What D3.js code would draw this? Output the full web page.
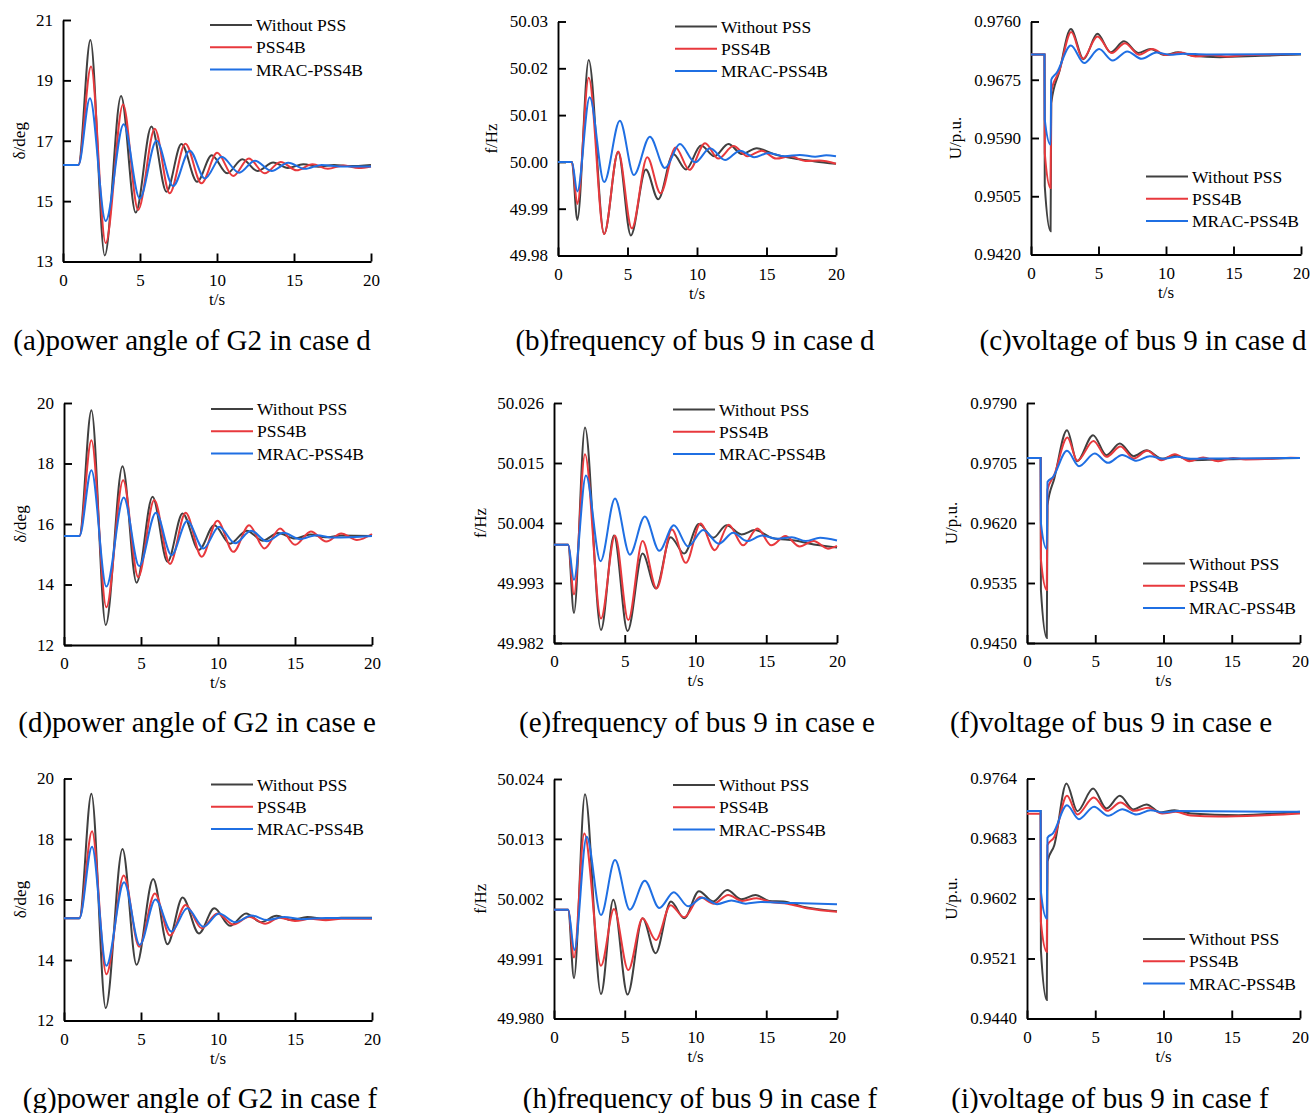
<!DOCTYPE html>
<html>
<head>
<meta charset="utf-8">
<script src="https://cdn.jsdelivr.net/npm/d3@7"></script>
<style>
  body { margin: 0; background: #fff; }
  svg text { font-family: "Liberation Serif", "Times New Roman", serif; fill: #000; }
</style>
</head>
<body>
<svg id="chart" width="1311" height="1113"></svg>
<script>
// time axis and legend
var timeTicks = [0, 5, 10, 15, 20];
var seriesNames = ["Without PSS", "PSS4B", "MRAC-PSS4B"];
var seriesColors = ["#404040", "#e8393d", "#1f6fe3"];

// (a) power angle of G2, case d
var aTicks = [13, 15, 17, 19, 21];
var aWithout = [[0,16.2],[1.0,16.2],[1.78,20.34],[2.71,13.2],[3.77,18.48],[4.72,14.62],[5.74,17.47],[6.72,15.31],[7.69,16.89],[8.71,15.64],[9.66,16.52],[10.66,15.92],[11.64,16.39],[12.63,16.0],[13.65,16.28],[14.6,16.1],[15.6,16.22],[16.6,16.14],[17.6,16.2],[18.6,16.16],[20,16.2]];
var aPss4b = [[0,16.2],[1.0,16.2],[1.82,19.46],[2.77,13.61],[3.9,18.2],[4.88,14.71],[5.96,17.4],[6.93,15.26],[7.95,16.9],[8.99,15.59],[10.01,16.6],[11.05,15.83],[12.07,16.41],[13.1,15.92],[14.13,16.3],[15.17,16.02],[16.2,16.22],[17.2,16.07],[18.2,16.18],[19.2,16.1],[20,16.15]];
var aMrac = [[0,16.2],[1.0,16.2],[1.75,18.41],[2.77,14.34],[3.94,17.55],[4.98,15.09],[6.07,17.0],[7.15,15.5],[8.23,16.67],[9.21,15.75],[10.29,16.47],[11.44,15.94],[12.46,16.34],[13.54,16.0],[14.63,16.27],[15.7,16.07],[16.8,16.2],[18,16.15],[20,16.15]];

// (b) frequency of bus 9, case d
var bTicks = [49.98, 49.99, 50.00, 50.01, 50.02, 50.03];
var bWithout = [[0,50],[1.0,50],[1.39,49.9876],[2.21,50.0218],[3.32,49.9846],[4.33,50.0021],[5.24,49.9843],[6.32,49.9984],[7.21,49.992],[8.29,50.0017],[9.21,49.9984],[10.29,50.0035],[11.25,50.0012],[12.26,50.0038],[13.22,50.0017],[14.3,50.0029],[15.5,50.0017],[16.5,50.001],[17.5,50.0005],[18.5,50.0001],[20,49.9996]];
var bPss4b = [[0,50],[1.0,50],[1.39,49.991],[2.21,50.018],[3.32,49.9846],[4.33,50.0022],[5.31,49.9858],[6.42,50.001],[7.38,49.9933],[8.46,50.0031],[9.45,49.9983],[10.58,50.004],[11.54,50.0007],[12.62,50.0034],[13.63,50.0012],[14.66,50.0024],[15.7,50.0007],[16.7,50.0012],[17.8,50.0002],[18.8,50.0003],[20,49.9996]];
var bMrac = [[0,50],[1.0,50],[1.39,49.9937],[2.28,50.0138],[3.32,49.9957],[4.45,50.0088],[5.46,49.9972],[6.61,50.0054],[7.69,49.9987],[8.77,50.0038],[9.86,49.9999],[10.94,50.0029],[12.02,50.0004],[13.1,50.0024],[14.11,50.001],[15.14,50.0019],[16.3,50.0012],[17.4,50.0015],[18.5,50.0011],[19.3,50.0014],[20,50.0012]];

// (c) voltage of bus 9, case d
var cTicks = [0.9420, 0.9505, 0.9590, 0.9675, 0.9760];
var cWithout = [[0,0.9712],[1.0,0.9712],[1.02,0.9520],[1.45,0.9454],[1.5,0.9641],[2.1,0.9687],[2.95,0.9749],[3.89,0.9705],[4.92,0.9742],[5.9,0.9715],[6.89,0.9731],[7.95,0.9714],[8.86,0.9720],[9.9,0.9711],[10.9,0.9715],[12,0.9710],[14,0.9708],[17,0.9710],[20,0.9712]];
var cPss4b = [[0,0.9712],[1.0,0.9712],[1.02,0.9568],[1.45,0.9517],[1.5,0.9658],[2.1,0.9688],[2.98,0.97445],[3.84,0.97056],[4.92,0.97381],[5.98,0.97139],[6.96,0.97284],[8.0,0.97114],[8.98,0.97197],[10.0,0.9711],[11.1,0.97148],[12.2,0.9709],[13.3,0.9711],[14.5,0.9709],[16,0.9711],[20,0.97125]];
var cMrac = [[0,0.9712],[1.0,0.9712],[1.02,0.9617],[1.45,0.9580],[1.5,0.9675],[1.9,0.9685],[2.95,0.9725],[3.94,0.96993],[5.04,0.97197],[6.05,0.97032],[7.13,0.97163],[8.19,0.97056],[9.3,0.97148],[10.3,0.97115],[11.3,0.9713],[13,0.9712],[20,0.97125]];

// (d) power angle of G2, case e
var dTicks = [12, 14, 16, 18, 20];
var dWithout = [[0,15.6],[1.0,15.6],[1.78,19.76],[2.71,12.66],[3.8,17.91],[4.71,14.06],[5.75,16.9],[6.72,14.75],[7.7,16.35],[8.76,15.14],[9.76,15.96],[10.78,15.35],[11.87,15.78],[12.9,15.45],[13.9,15.7],[15.0,15.52],[16.0,15.65],[17.0,15.56],[18.0,15.62],[20,15.6]];
var dPss4b = [[0,15.6],[1.0,15.6],[1.78,18.77],[2.75,13.25],[3.84,17.45],[4.82,14.24],[5.86,16.79],[6.88,14.68],[7.9,16.37],[8.94,14.92],[9.96,16.11],[11.0,15.08],[12.02,15.96],[13.02,15.19],[14.03,15.85],[15.01,15.31],[16.03,15.75],[17.03,15.42],[18.0,15.69],[19.02,15.47],[20,15.67]];
var dMrac = [[0,15.6],[1.0,15.6],[1.78,17.78],[2.75,13.93],[3.88,16.88],[4.88,14.61],[5.97,16.37],[6.98,14.97],[8.0,16.1],[9.05,15.19],[10.07,15.91],[11.11,15.36],[12.15,15.78],[13.17,15.43],[14.25,15.71],[15.3,15.5],[16.4,15.63],[17.5,15.55],[20,15.6]];

// (e) frequency of bus 9, case e
var eTicks = [49.982, 49.993, 50.004, 50.015, 50.026];
var eWithout = [[0,50],[1.0,50],[1.41,49.9875],[2.19,50.0215],[3.32,49.9844],[4.24,50.0017],[5.2,49.9842],[6.26,49.9984],[7.2,49.992],[8.24,50.0014],[9.2,49.9984],[10.24,50.0038],[11.25,50.0013],[12.19,50.0036],[13.25,50.0019],[14.19,50.0027],[15.5,50.0012],[17,50.0008],[18.5,50.0],[20,49.9995]];
var ePss4b = [[0,50],[1.0,50],[1.41,49.9909],[2.19,50.0166],[3.32,49.9865],[4.31,50.0017],[5.25,49.9862],[6.26,50.0007],[7.25,49.992],[8.33,50.0028],[9.32,49.9967],[10.35,50.0039],[11.36,49.999],[12.35,50.0037],[13.36,49.9999],[14.38,50.003],[15.36,49.9999],[16.35,50.0016],[17.36,49.9997],[18.35,50.0007],[19.36,49.9993],[20,49.9998]];
var eMrac = [[0,50],[1.0,50],[1.41,49.9936],[2.26,50.0127],[3.29,49.997],[4.31,50.0085],[5.36,49.9982],[6.42,50.0052],[7.44,49.9989],[8.47,50.0036],[9.48,49.9997],[10.54,50.0027],[11.65,50.0002],[12.66,50.0022],[13.65,50.0007],[14.71,50.0017],[15.8,50.0011],[16.8,50.0014],[17.8,50.0007],[18.8,50.0013],[20,50.0008]];

// (f) voltage of bus 9, case e
var fTicks = [0.9450, 0.9535, 0.9620, 0.9705, 0.9790];
var fWithout = [[0,0.9712],[1.0,0.9712],[1.02,0.9525],[1.45,0.9457],[1.5,0.9645],[2.0,0.9683],[2.93,0.97514],[3.67,0.97076],[4.84,0.97443],[5.82,0.97161],[6.8,0.97325],[7.82,0.97147],[8.75,0.97231],[9.9,0.9711],[10.8,0.97155],[12,0.9709],[14,0.9710],[17,0.9711],[20,0.9712]];
var fPss4b = [[0,0.9712],[1.0,0.9712],[1.02,0.9568],[1.45,0.9525],[1.5,0.9667],[2.0,0.9688],[2.96,0.9741],[3.69,0.97081],[4.87,0.97363],[5.82,0.97137],[6.85,0.97283],[7.82,0.97114],[8.8,0.97222],[9.85,0.9709],[10.83,0.97175],[11.9,0.97076],[12.9,0.97128],[14,0.97076],[15.1,0.9712],[16,0.971],[18,0.9711],[19.3,0.97125],[20,0.9712]];
var fMrac = [[0,0.9712],[1.0,0.9712],[1.02,0.962],[1.45,0.9583],[1.5,0.9678],[1.9,0.9685],[2.93,0.97222],[3.81,0.97005],[4.96,0.97184],[5.94,0.97052],[6.97,0.97165],[8.02,0.97081],[9.0,0.97147],[10,0.9711],[11,0.9714],[12,0.9711],[14,0.97115],[20,0.9712]];

// (g) power angle of G2, case f
var gTicks = [12, 14, 16, 18, 20];
var gWithout = [[0,15.38],[1.0,15.38],[1.78,19.5],[2.71,12.41],[3.8,17.67],[4.71,13.84],[5.79,16.68],[6.72,14.52],[7.7,16.07],[8.76,14.88],[9.76,15.71],[10.78,15.13],[11.82,15.54],[12.8,15.25],[13.8,15.46],[14.8,15.32],[15.8,15.42],[17,15.36],[18,15.4],[20,15.4]];
var gPss4b = [[0,15.38],[1.0,15.38],[1.82,18.26],[2.75,13.53],[3.88,16.79],[4.88,14.44],[5.9,16.2],[6.88,14.81],[7.9,15.82],[8.94,15.05],[9.96,15.54],[11.0,15.17],[12.02,15.43],[13.06,15.2],[14.0,15.4],[15.0,15.29],[16.0,15.36],[17.0,15.31],[18,15.36],[20,15.36]];
var gMrac = [[0,15.38],[1.0,15.38],[1.82,17.74],[2.75,13.81],[3.9,16.57],[4.92,14.5],[5.94,16.0],[6.98,14.94],[8.0,15.71],[9.05,15.1],[10.07,15.54],[11.11,15.25],[12.19,15.47],[13.2,15.32],[14.3,15.42],[15.4,15.35],[17,15.39],[20,15.38]];

// (h) frequency of bus 9, case f
var hTicks = [49.980, 49.991, 50.002, 50.013, 50.024];
var hWithout = [[0,50],[1.0,50],[1.41,49.9874],[2.19,50.0212],[3.32,49.9845],[4.19,50.0018],[5.2,49.9844],[6.26,49.9984],[7.18,49.992],[8.26,50.0015],[9.2,49.9984],[10.24,50.0034],[11.25,50.0015],[12.24,50.0036],[13.25,50.0019],[14.24,50.0027],[15.2,50.0016],[16.2,50.0015],[17.5,50.0006],[20,49.9997]];
var hPss4b = [[0,50],[1.0,50],[1.41,49.9912],[2.14,50.014],[3.32,49.9897],[4.24,50.0001],[5.25,49.9889],[6.26,49.9984],[7.2,49.9944],[8.24,50.0008],[9.2,49.9986],[10.31,50.0023],[11.29,50.0011],[12.31,50.0027],[13.29,50.0016],[14.31,50.0021],[15.3,50.0014],[16.5,50.0011],[18,50.0002],[20,49.9996]];
var hMrac = [[0,50],[1.0,50],[1.44,49.9926],[2.31,50.0134],[3.32,49.999],[4.31,50.0091],[5.36,50.0],[6.42,50.0053],[7.44,50.0003],[8.47,50.0032],[9.48,50.0006],[10.49,50.0022],[11.53,50.001],[12.54,50.0017],[13.55,50.0011],[14.6,50.0014],[17,50.0012],[20,50.001]];

// (i) voltage of bus 9, case f
var iTicks = [0.9440, 0.9521, 0.9602, 0.9683, 0.9764];
var iWithout = [[0,0.9720],[1.0,0.9720],[1.02,0.9532],[1.45,0.9465],[1.5,0.9652],[2.0,0.9674],[2.89,0.97573],[3.69,0.97199],[4.84,0.97505],[5.82,0.97235],[6.8,0.97406],[7.78,0.97222],[8.75,0.97289],[9.8,0.97181],[10.8,0.97213],[12,0.97168],[15.5,0.97145],[20,0.9719]];
var iPss4b = [[0,0.97163],[1.0,0.97163],[1.02,0.9570],[1.45,0.9530],[1.5,0.9674],[2.0,0.9685],[2.93,0.97406],[3.69,0.97154],[4.89,0.97383],[5.87,0.97204],[6.85,0.97316],[7.85,0.97204],[8.87,0.97244],[9.9,0.97168],[10.9,0.9719],[12,0.9714],[14,0.97127],[17,0.9714],[20,0.97168]];
var iMrac = [[0,0.9720],[1.0,0.9720],[1.02,0.9611],[1.45,0.9575],[1.5,0.9684],[1.9,0.9690],[2.93,0.9728],[3.81,0.97091],[4.91,0.97258],[5.94,0.97136],[6.99,0.97226],[8.02,0.97154],[9.05,0.97213],[10,0.9718],[11,0.972],[20,0.9719]];

// panel layout: plot box, tick format, labels, legend anchor, caption
var panels = [
    {x0: 63,   x1: 371,  y0: 20,    y1: 261.5, ticks: aTicks, fmt: "d",   ylab: "δ/deg",  ylabX: 19,  series: [aWithout, aPss4b, aMrac], leg: [210, 25],    cap: "(a)power angle of G2 in case d",  capX: 192,  capY: 350},
    {x0: 558,  x1: 836,  y0: 21.5,  y1: 255.5, ticks: bTicks, fmt: ".2f", ylab: "f/Hz",   ylabX: 491, series: [bWithout, bPss4b, bMrac], leg: [675, 26.5],  cap: "(b)frequency of bus 9 in case d", capX: 695,  capY: 350},
    {x0: 1031, x1: 1301, y0: 21.5,  y1: 254.5, ticks: cTicks, fmt: ".4f", ylab: "U/p.u.", ylabX: 955, series: [cWithout, cPss4b, cMrac], leg: [1146, 176.5],cap: "(c)voltage of bus 9 in case d",   capX: 1143, capY: 350},
    {x0: 64,   x1: 372,  y0: 403,   y1: 645,   ticks: dTicks, fmt: "d",   ylab: "δ/deg",  ylabX: 20,  series: [dWithout, dPss4b, dMrac], leg: [211, 409],   cap: "(d)power angle of G2 in case e",  capX: 197,  capY: 732},
    {x0: 554,  x1: 837,  y0: 403,   y1: 643,   ticks: eTicks, fmt: ".3f", ylab: "f/Hz",   ylabX: 480, series: [eWithout, ePss4b, eMrac], leg: [673, 409.5], cap: "(e)frequency of bus 9 in case e", capX: 697,  capY: 732},
    {x0: 1027, x1: 1300, y0: 403,   y1: 643,   ticks: fTicks, fmt: ".4f", ylab: "U/p.u.", ylabX: 951, series: [fWithout, fPss4b, fMrac], leg: [1143, 563.5],cap: "(f)voltage of bus 9 in case e",   capX: 1111, capY: 732},
    {x0: 64,   x1: 372,  y0: 778.5, y1: 1020.5,ticks: gTicks, fmt: "d",   ylab: "δ/deg",  ylabX: 20,  series: [gWithout, gPss4b, gMrac], leg: [211, 784.5], cap: "(g)power angle of G2 in case f",  capX: 200,  capY: 1108},
    {x0: 554,  x1: 837,  y0: 779,   y1: 1018.5,ticks: hTicks, fmt: ".3f", ylab: "f/Hz",   ylabX: 480, series: [hWithout, hPss4b, hMrac], leg: [673, 785],   cap: "(h)frequency of bus 9 in case f", capX: 700,  capY: 1108},
    {x0: 1027, x1: 1300, y0: 778.5, y1: 1018.5,ticks: iTicks, fmt: ".4f", ylab: "U/p.u.", ylabX: 951, series: [iWithout, iPss4b, iMrac], leg: [1143, 939],  cap: "(i)voltage of bus 9 in case f",   capX: 1110, capY: 1108}
];

var svg = d3.select("#chart");

var drawPanel = function (p) {
    var x = d3.scaleLinear().domain([0, 20]).range([p.x0, p.x1]);
    var y = d3.scaleLinear().domain([p.ticks[0], p.ticks[p.ticks.length - 1]]).range([p.y1, p.y0]);
    var g = svg.append("g");

    // axes, ticks pointing inward
    var xAxis = d3.axisBottom(x).tickValues(timeTicks).tickSizeInner(-8).tickSizeOuter(0).tickPadding(12);
    var yAxis = d3.axisLeft(y).tickValues(p.ticks).tickFormat(d3.format(p.fmt)).tickSizeInner(-8).tickSizeOuter(0).tickPadding(10);
    var gx = g.append("g").attr("transform", "translate(0," + p.y1 + ")").call(xAxis);
    var gy = g.append("g").attr("transform", "translate(" + p.x0 + ",0)").call(yAxis);
    [gx, gy].forEach(function (ax) {
        ax.select(".domain").attr("stroke", "#000").attr("stroke-width", 1.9);
        ax.selectAll(".tick line").attr("stroke", "#000").attr("stroke-width", 1.9);
        ax.selectAll(".tick text").attr("font-size", 17).attr("font-family", null);
    });

    // curves
    var line = d3.line()
        .x(function (d) { return x(d[0]); })
        .y(function (d) { return y(d[1]); })
        .curve(d3.curveMonotoneX);
    p.series.forEach(function (s, i) {
        g.append("path")
            .attr("d", line(s))
            .attr("fill", "none")
            .attr("stroke", seriesColors[i])
            .attr("stroke-width", 2);
    });

    // axis titles
    g.append("text")
        .attr("x", (p.x0 + p.x1) / 2)
        .attr("y", p.y1 + 43)
        .attr("text-anchor", "middle")
        .attr("font-size", 17)
        .text("t/s");
    g.append("text")
        .attr("transform", "translate(" + p.ylabX + "," + ((p.y0 + p.y1) / 2) + ") rotate(-90)")
        .attr("dy", "0.33em")
        .attr("text-anchor", "middle")
        .attr("font-size", 17)
        .text(p.ylab);

    // legend
    seriesNames.forEach(function (name, i) {
        var ly = p.leg[1] + i * 22.3;
        g.append("line")
            .attr("x1", p.leg[0]).attr("x2", p.leg[0] + 42)
            .attr("y1", ly).attr("y2", ly)
            .attr("stroke", seriesColors[i])
            .attr("stroke-width", 2);
        g.append("text")
            .attr("x", p.leg[0] + 46)
            .attr("y", ly)
            .attr("dy", "0.35em")
            .attr("font-size", 17.5)
            .text(name);
    });

    // caption
    g.append("text")
        .attr("x", p.capX)
        .attr("y", p.capY)
        .attr("text-anchor", "middle")
        .attr("font-size", 29)
        .text(p.cap);
};

panels.forEach(drawPanel);
</script>
</body>
</html>
